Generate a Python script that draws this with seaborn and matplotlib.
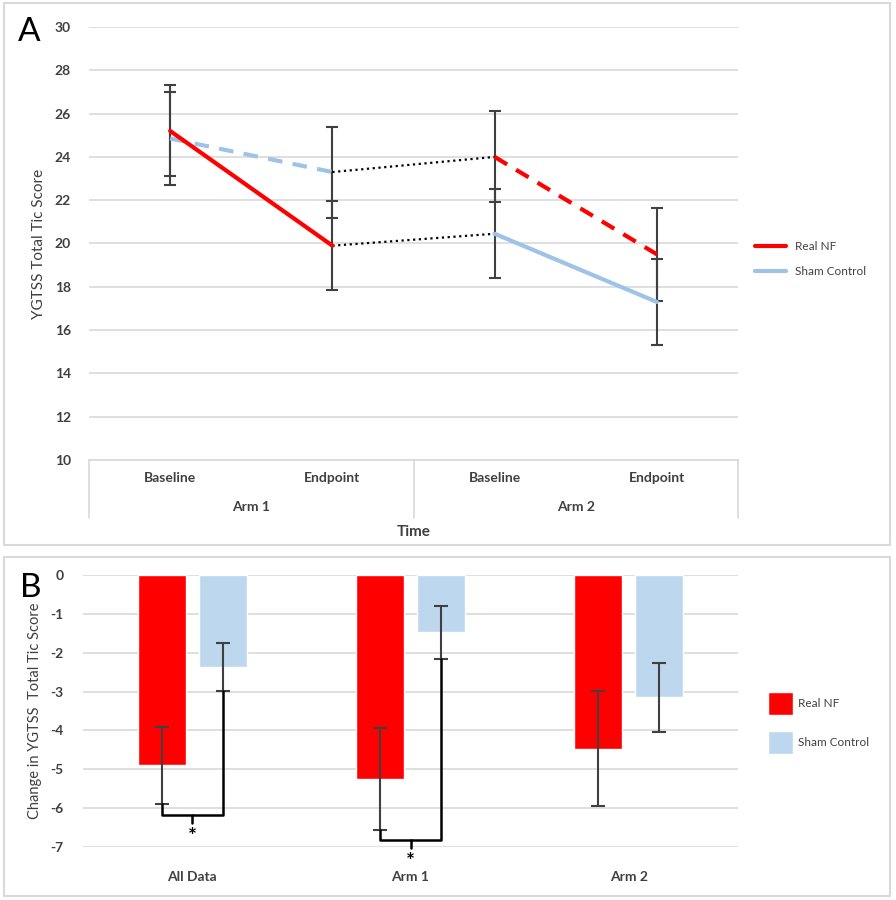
import matplotlib
matplotlib.use("Agg")
import matplotlib.pyplot as plt
from matplotlib.lines import Line2D
from matplotlib.patches import Rectangle, Patch
import matplotlib.transforms as mtransforms
import numpy as np
import pandas as pd
import seaborn as sns

# ---------------- data ----------------
time_labels = ["Baseline", "Endpoint", "Baseline", "Endpoint"]
arm_labels = ["Arm 1", "Arm 2"]
real_nf_scores = [25.2, 19.9, 24.0, 19.5]
real_nf_err = [2.1, 2.05, 2.1, 2.15]
sham_scores = [24.85, 23.3, 20.45, 17.3]
sham_err = [2.15, 2.1, 2.05, 2.0]

change_groups = ["All Data", "Arm 1", "Arm 2"]
change_real_nf = [-4.9, -5.25, -4.47]
change_real_nf_err = [1.0, 1.3, 1.48]
change_sham = [-2.36, -1.47, -3.15]
change_sham_err = [0.62, 0.68, 0.88]
sig_groups = ["All Data", "Arm 1"]
sig_bracket_y = [-6.17, -6.81]

series_names = ["Real NF", "Sham Control"]
RED = "#FF0000"
BLUE_LINE = "#9DC3E6"
BLUE_BAR = "#BDD7EE"
GRID = "#D9D9D9"
TXT = "#404040"
ERR = "#404040"

sns.set_theme(style="white")
plt.rcParams["font.family"] = ["Lato", "DejaVu Sans"]
plt.rcParams["axes.unicode_minus"] = False

fig = plt.figure(figsize=(8.96, 9.0), dpi=100)
W, H = 896, 900

def fig_rect(l, t, r, b):
    return [l / W, 1 - b / H, (r - l) / W, (b - t) / H]

# panel frames
for (l, t, r, b) in [(4, 3, 890, 545), (4, 557, 890, 896)]:
    fig.patches.append(Rectangle((l / W, 1 - b / H), (r - l) / W, (b - t) / H,
                                 transform=fig.transFigure, fill=False,
                                 edgecolor=GRID, lw=1.5))

# ---------------- Panel A ----------------
axA = fig.add_axes(fig_rect(89, 27, 738, 460))
pos = list(range(len(time_labels)))
dfA = pd.DataFrame({
    "pos": pos * 2,
    "score": real_nf_scores + sham_scores,
    "group": [series_names[0]] * 4 + [series_names[1]] * 4,
})

def seg(group, p0, p1):
    return dfA[(dfA.group == group) & (dfA.pos >= p0) & (dfA.pos <= p1)]

# error bars
axA.errorbar(pos, real_nf_scores, yerr=real_nf_err, fmt="none", ecolor=ERR,
             elinewidth=1.5, capsize=4, capthick=1.5, zorder=2)
axA.errorbar(pos, sham_scores, yerr=sham_err, fmt="none", ecolor=ERR,
             elinewidth=1.5, capsize=4, capthick=1.5, zorder=2)

# dotted connectors between arms (crossover: sham arm 1 -> real arm 2, real arm 1 -> sham arm 2)
for g1, g2 in [("Sham Control", "Real NF"), ("Real NF", "Sham Control")]:
    d = pd.concat([dfA[(dfA.group == g1) & (dfA.pos == 1)],
                   dfA[(dfA.group == g2) & (dfA.pos == 2)]])
    sns.lineplot(data=d, x="pos", y="score", ax=axA, color="black",
                 lw=1.6, linestyle=(0, (1, 1.6)), errorbar=None, legend=False, zorder=3)
# Arm 1 segments
sns.lineplot(data=seg("Sham Control", 0, 1), x="pos", y="score", ax=axA, color=BLUE_LINE,
             lw=3, linestyle=(0, (3.5, 2.5)), errorbar=None, legend=False, zorder=4)
sns.lineplot(data=seg("Real NF", 0, 1), x="pos", y="score", ax=axA, color=RED,
             lw=3, errorbar=None, legend=False, zorder=5)
# Arm 2 segments
sns.lineplot(data=seg("Sham Control", 2, 3), x="pos", y="score", ax=axA, color=BLUE_LINE,
             lw=3, errorbar=None, legend=False, zorder=4)
sns.lineplot(data=seg("Real NF", 2, 3), x="pos", y="score", ax=axA, color=RED,
             lw=3, linestyle=(0, (3.5, 2.5)), errorbar=None, legend=False, zorder=5)

axA.set_xlim(-0.5, 3.5)
axA.set_ylim(10, 30)
axA.set_yticks(np.arange(10, 31, 2))
axA.yaxis.grid(True, color=GRID, lw=1.2)
axA.set_axisbelow(True)
for s in ["top", "right", "left"]:
    axA.spines[s].set_visible(False)
axA.spines["bottom"].set_color(GRID)
axA.spines["bottom"].set_linewidth(1.2)
axA.set_xticks(pos)
axA.set_xticklabels(time_labels, fontsize=10, fontweight="bold", color=TXT)
axA.tick_params(axis="x", length=0, pad=9)
axA.tick_params(axis="y", length=0, pad=13, labelsize=10, labelcolor=TXT)
for t in axA.get_yticklabels():
    t.set_fontweight("bold")
axA.set_xlabel("")
axA.set_ylabel("YGTSS Total Tic Score", fontsize=11, color=TXT, labelpad=6)

trA = mtransforms.blended_transform_factory(axA.transData, axA.transAxes)
for xv in [-0.5, 1.5, 3.5]:
    axA.plot([xv, xv], [0, -0.134], transform=trA, color=GRID, lw=1.2, clip_on=False)
for i, a in enumerate(arm_labels):
    axA.text(0.5 + 2 * i, -0.109, a, transform=trA, ha="center", va="center",
             fontsize=10, fontweight="bold", color=TXT)
axA.text(1.5, -0.166, "Time", transform=trA, ha="center", va="center",
         fontsize=11, fontweight="bold", color=TXT)

handlesA = [Line2D([0], [0], color=RED, lw=3), Line2D([0], [0], color=BLUE_LINE, lw=3)]
axA.legend(handlesA, series_names, loc="center left", bbox_to_anchor=(1.01, 0.464),
           frameon=False, fontsize=8.5, handlelength=2.6, labelspacing=1.2,
           labelcolor=TXT)
fig.text(18 / W, 1 - 32 / H, "A", fontsize=24, ha="left", va="center", color="black")

# ---------------- Panel B ----------------
axB = fig.add_axes(fig_rect(83, 575, 738, 847))
dfB = pd.DataFrame({
    "group": change_groups * 2,
    "change": change_real_nf + change_sham,
    "series": [series_names[0]] * 3 + [series_names[1]] * 3,
})
sns.barplot(data=dfB, x="group", y="change", hue="series", order=change_groups,
            hue_order=series_names, palette=[RED, BLUE_BAR], width=0.56, gap=0.214,
            errorbar=None, ax=axB, legend=False, saturation=1, zorder=2)

offs = 0.14
xs_real = np.arange(len(change_groups)) - offs
xs_sham = np.arange(len(change_groups)) + offs
axB.errorbar(xs_real, change_real_nf, yerr=change_real_nf_err, fmt="none", ecolor=ERR,
             elinewidth=1.5, capsize=5, capthick=1.5, zorder=3)
axB.errorbar(xs_sham, change_sham, yerr=change_sham_err, fmt="none", ecolor=ERR,
             elinewidth=1.5, capsize=5, capthick=1.5, zorder=3)

for g, yb in zip(sig_groups, sig_bracket_y):
    i = change_groups.index(g)
    xr, xsh = xs_real[i], xs_sham[i]
    yr = change_real_nf[i] - change_real_nf_err[i]
    ysh = change_sham[i] - change_sham_err[i]
    axB.plot([xr, xr, xsh, xsh], [yr, yb, yb, ysh], color="black", lw=1.8,
             clip_on=False, zorder=4)
    xm = (xr + xsh) / 2
    axB.plot([xm, xm], [yb, yb - 0.22], color="black", lw=1.8, clip_on=False, zorder=4)
    axB.text(xm, yb - 0.58, "*", ha="center", va="center", fontsize=15,
             fontweight="bold", color="black", clip_on=False)

axB.set_xlim(-0.5, 2.5)
axB.set_ylim(-7, 0)
axB.set_yticks(np.arange(-7, 1, 1))
axB.yaxis.grid(True, color=GRID, lw=1.2, zorder=0)
axB.set_axisbelow(True)
for s in ["top", "right", "left", "bottom"]:
    axB.spines[s].set_visible(False)
axB.set_xticks(range(len(change_groups)))
axB.set_xticklabels(change_groups, fontsize=10, fontweight="bold", color=TXT)
axB.tick_params(axis="x", length=0, pad=17)
axB.tick_params(axis="y", length=0, pad=14, labelsize=10, labelcolor=TXT)
for t in axB.get_yticklabels():
    t.set_fontweight("bold")
axB.set_xlabel("")
axB.set_ylabel("Change in YGTSS  Total Tic Score", fontsize=10.5, color=TXT, labelpad=6)

handlesB = [Patch(facecolor=RED), Patch(facecolor=BLUE_BAR)]
axB.legend(handlesB, series_names, loc="center left", bbox_to_anchor=(1.03, 0.456),
           frameon=False, fontsize=8.5, handlelength=2.1, handleheight=2.7,
           labelspacing=1.3, handletextpad=0.4, labelcolor=TXT)
fig.text(20 / W, 1 - 588 / H, "B", fontsize=24, ha="left", va="center", color="black")

fig.savefig("out.png", dpi=100)
